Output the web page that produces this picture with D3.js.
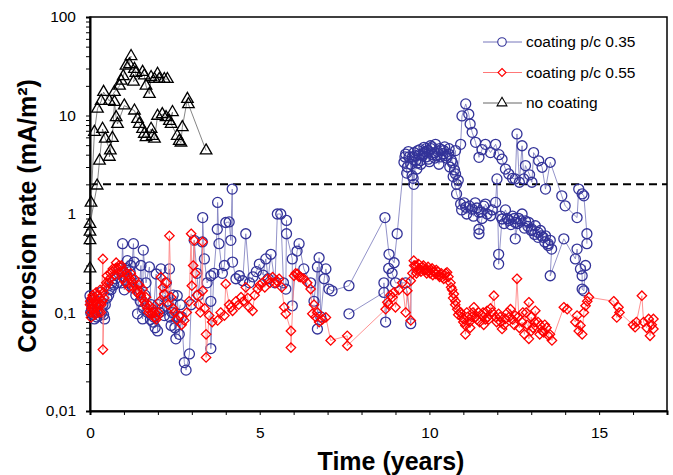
<!DOCTYPE html>
<html>
<head>
<meta charset="utf-8">
<title>Corrosion rate</title>
<script src="https://d3js.org/d3.v7.min.js"></script>
<style>
body { margin: 0; background: #fff; }
text { font-family: Arial, "Liberation Sans", sans-serif; }
</style>
</head>
<body>
<div id="chart"></div>
<script>
// readings, [time (years), corrosion rate (mA/m2)], one array per specimen
var coat035a = [[0.0,0.148],[0.03,0.128],[0.05,0.11],[0.08,0.095],[0.13,0.086],[0.18,0.114],[0.22,0.13],[0.28,0.093],[0.33,0.16],[0.38,0.12],[0.43,0.086],[0.5,0.14],[0.57,0.173],[0.65,0.2],[0.75,0.22],[0.85,0.25],[0.92,0.2],[0.96,0.5],[1.01,0.17],[1.05,0.28],[1.1,0.336],[1.2,0.3],[1.21,0.22],[1.28,0.5],[1.3,0.325],[1.4,0.097],[1.45,0.16],[1.5,0.3],[1.55,0.086],[1.57,0.43],[1.65,0.2],[1.75,0.29],[1.8,0.12],[1.85,0.08],[1.95,0.246],[1.99,0.065],[2.05,0.1],[2.09,0.277],[2.19,0.093],[2.25,0.2],[2.34,0.277],[2.39,0.074],[2.45,0.15],[2.53,0.054],[2.57,0.148],[2.63,0.06],[2.7,0.09],[2.78,0.031],[2.83,0.026],[2.93,0.038],[2.98,0.12],[3.07,0.54],[3.15,0.25],[3.2,0.15],[3.31,0.52],[3.32,0.92],[3.37,0.35],[3.45,0.2],[3.56,0.236],[3.56,0.13],[3.56,0.043],[3.65,0.25],[3.75,0.7],[3.76,1.31],[3.8,0.5],[3.9,0.25],[3.96,0.3],[4.0,0.82],[4.1,0.83],[4.15,0.54],[4.19,1.79],[4.2,0.325],[4.3,0.22],[4.4,0.236],[4.5,0.21],[4.59,0.63],[4.7,0.2],[4.8,0.23],[4.9,0.26],[4.99,0.31],[5.1,0.24],[5.18,0.35],[5.25,0.22],[5.33,0.39],[5.45,0.2],[5.52,1.0],[5.62,1.0],[5.7,0.2],[5.77,0.173],[5.79,0.86],[5.79,0.63],[5.96,0.35],[5.96,0.117],[6.1,0.42],[6.16,0.5],[6.3,0.277],[6.5,0.2],[6.6,0.13],[6.7,0.29],[6.7,0.068],[6.75,0.36],[6.8,0.09],[6.9,0.22],[6.95,0.277],[7.04,0.173],[7.13,0.166],[7.63,0.187],[8.69,0.92],[8.81,0.39],[8.96,0.32],[9.05,0.63],[9.25,3.35],[9.3,4.06],[9.35,3.0],[9.4,3.8],[9.49,2.45],[9.54,2.0],[9.6,3.5],[9.63,2.86],[9.7,4.0],[9.75,3.2],[9.84,4.75],[9.9,3.8],[9.95,4.4],[10.03,4.93],[10.1,4.0],[10.18,5.1],[10.28,3.2],[10.35,4.5],[10.45,4.8],[10.57,4.06],[10.65,3.5],[10.77,4.4],[10.77,2.55],[10.8,2.0],[10.92,5.1],[10.96,9.9],[11.07,13.1],[11.16,10.3],[11.2,8.2],[11.26,6.75],[11.36,5.34],[11.46,3.76],[11.55,4.5],[11.65,5.1],[11.8,4.2],[11.95,5.1],[12.05,4.0],[12.14,3.6],[12.24,2.86],[12.34,2.55],[12.45,2.3],[12.53,2.27],[12.58,6.5],[12.65,2.1],[12.73,4.93],[12.78,2.27],[12.83,3.1],[12.95,2.5],[13.02,2.1],[13.07,4.2],[13.22,3.47],[13.32,2.98],[13.42,1.79],[13.56,3.35],[13.9,1.53],[14.0,1.21],[14.35,0.92],[14.4,1.79],[14.5,1.6],[14.55,1.53],[14.64,0.63],[14.64,0.5]];
var coat035b = [[7.63,0.097],[8.66,0.16],[8.66,0.2],[8.71,0.08],[8.8,0.28],[8.9,0.25],[9.0,0.2],[9.3,0.2],[9.45,0.077],[9.5,3.8],[9.55,4.2],[9.65,3.3],[9.72,4.5],[9.8,3.9],[9.88,4.3],[9.97,3.6],[10.05,4.6],[10.15,4.2],[10.22,3.9],[10.3,4.6],[10.4,4.1],[10.5,3.7],[10.6,3.0],[10.7,2.4],[10.8,1.6],[10.92,1.26],[11.07,1.17],[11.26,1.12],[11.35,1.3],[11.46,1.04],[11.46,0.7],[11.46,0.63],[11.55,0.9],[11.65,1.26],[11.8,0.96],[11.95,1.31],[11.99,2.27],[12.04,0.39],[12.04,0.31],[12.14,0.89],[12.24,1.1],[12.34,0.86],[12.45,0.95],[12.53,0.82],[12.53,0.56],[12.63,0.9],[12.73,1.0],[12.83,0.85],[12.93,0.82],[13.02,0.7],[13.12,0.76],[13.2,0.65],[13.27,0.68],[13.35,0.58],[13.42,0.6],[13.5,0.5],[13.56,0.54],[13.6,0.44],[13.56,0.236],[13.96,0.56],[14.3,0.35],[14.35,0.44],[14.45,0.277],[14.5,0.236],[14.5,0.173],[14.55,0.166],[14.6,0.3]];
var coat035c = [[0.02,0.1],[0.07,0.13],[0.1,0.12],[0.15,0.1],[0.2,0.09],[0.25,0.11],[0.3,0.13],[0.35,0.1],[0.4,0.095],[0.45,0.12],[0.55,0.15],[0.62,0.17],[0.7,0.19],[0.8,0.2],[0.88,0.28],[0.95,0.26],[1.03,0.23],[1.12,0.2],[1.18,0.26],[1.25,0.18],[1.35,0.15],[1.42,0.2],[1.48,0.13],[1.58,0.11],[1.62,0.15],[1.7,0.1],[1.78,0.085],[1.88,0.09],[1.92,0.07],[2.0,0.12],[2.12,0.11],[2.2,0.15],[2.28,0.13],[2.35,0.09],[2.42,0.1],[2.5,0.07],[2.6,0.09],[2.66,0.12]];
var coat035d = [[9.28,3.8],[9.33,2.6],[9.38,4.3],[9.45,3.2],[9.52,2.3],[9.58,3.9],[9.66,4.4],[9.74,3.5],[9.82,4.1],[9.9,4.6],[10.0,3.4],[10.08,4.8],[10.16,3.7],[10.24,4.3],[10.33,3.8],[10.42,4.4],[10.5,3.9],[10.58,4.6],[10.68,3.3],[10.74,2.8],[10.85,2.2],[10.95,1.1],[11.02,1.3],[11.1,1.0],[11.18,1.2],[11.3,0.95],[11.4,1.15],[11.52,1.05],[11.6,1.2],[11.7,1.0],[11.85,1.1],[12.1,0.95],[12.2,0.8],[12.3,0.9],[12.4,0.78],[12.5,0.9],[12.6,0.8],[12.7,0.85],[12.8,0.72],[12.9,0.75],[13.0,0.68],[13.1,0.62],[13.2,0.58],[13.3,0.6],[13.4,0.52],[13.5,0.48]];
var coat055a = [[0.0,0.12],[0.02,0.1],[0.03,0.089],[0.05,0.14],[0.08,0.15],[0.1,0.11],[0.13,0.13],[0.15,0.095],[0.18,0.16],[0.2,0.12],[0.25,0.1],[0.28,0.14],[0.3,0.17],[0.33,0.12],[0.38,0.35],[0.38,0.042],[0.42,0.14],[0.45,0.18],[0.5,0.236],[0.55,0.2],[0.6,0.25],[0.67,0.277],[0.72,0.24],[0.77,0.32],[0.82,0.28],[0.88,0.25],[0.92,0.3],[0.97,0.22],[1.01,0.266],[1.05,0.2],[1.1,0.236],[1.15,0.18],[1.2,0.25],[1.25,0.2],[1.31,0.22],[1.38,0.16],[1.45,0.19],[1.5,0.15],[1.55,0.173],[1.6,0.13],[1.65,0.143],[1.7,0.11],[1.75,0.117],[1.8,0.095],[1.85,0.11],[1.9,0.1],[1.95,0.085],[2.0,0.093],[2.05,0.13],[2.09,0.228],[2.15,0.18],[2.19,0.154],[2.25,0.2],[2.3,0.12],[2.34,0.6],[2.39,0.143],[2.45,0.11],[2.49,0.1],[2.55,0.085],[2.63,0.093],[2.7,0.075],[2.78,0.083],[2.85,0.1],[2.92,0.13],[2.98,0.63],[3.0,0.187],[3.04,0.3],[3.07,0.54],[3.1,0.25],[3.15,0.15],[3.2,0.12],[3.25,0.1],[3.32,0.52],[3.32,0.166],[3.38,0.11],[3.42,0.06],[3.42,0.035],[3.51,0.093],[3.6,0.08],[3.76,0.083],[3.85,0.1],[3.96,0.093],[4.0,0.195],[4.1,0.12],[4.15,0.113],[4.2,0.104],[4.3,0.13],[4.38,0.12],[4.45,0.143],[4.52,0.13],[4.59,0.18],[4.65,0.14],[4.69,0.113],[4.79,0.104],[4.85,0.15],[4.94,0.173],[5.0,0.19],[5.08,0.2],[5.15,0.18],[5.23,0.22],[5.3,0.2],[5.38,0.228],[5.45,0.2],[5.5,0.21],[5.57,0.22],[5.65,0.18],[5.72,0.113],[5.77,0.097],[5.92,0.065],[5.92,0.044],[6.01,0.236],[6.06,0.25],[6.11,0.246],[6.16,0.23],[6.21,0.228],[6.3,0.22],[6.4,0.2],[6.5,0.173],[6.55,0.097],[6.6,0.12],[6.65,0.09],[6.7,0.1],[6.75,0.08],[6.85,0.085],[6.95,0.089],[7.09,0.052],[7.58,0.058],[7.58,0.046],[8.71,0.108],[8.76,0.127],[8.8,0.12],[8.85,0.15],[8.91,0.143],[8.95,0.16],[9.0,0.113],[9.1,0.17],[9.2,0.2],[9.3,0.1],[9.35,0.166],[9.45,0.083],[9.45,0.21],[9.5,0.25],[9.54,0.336],[9.6,0.3],[9.64,0.266],[9.7,0.28],[9.79,0.29],[9.85,0.27],[9.92,0.25],[9.99,0.266],[10.05,0.27],[10.1,0.24],[10.18,0.246],[10.25,0.26],[10.3,0.23],[10.38,0.228],[10.45,0.24],[10.52,0.256],[10.62,0.2],[10.67,0.17],[10.72,0.154],[10.77,0.13],[10.82,0.108],[10.9,0.1],[10.96,0.089],[11.0,0.08],[11.06,0.074],[11.06,0.06],[11.12,0.09],[11.2,0.07],[11.25,0.09],[11.31,0.113],[11.4,0.085],[11.45,0.1],[11.55,0.093],[11.6,0.075],[11.7,0.104],[11.75,0.085],[11.8,0.11],[11.9,0.148],[11.95,0.09],[12.04,0.097],[12.1,0.08],[12.14,0.068],[12.24,0.086],[12.3,0.1],[12.39,0.108],[12.45,0.085],[12.53,0.093],[12.58,0.22],[12.65,0.07],[12.73,0.08],[12.8,0.06],[12.85,0.1],[12.93,0.127],[12.93,0.054],[13.0,0.09],[13.05,0.07],[13.12,0.104],[13.2,0.08],[13.27,0.074],[13.32,0.065],[13.37,0.063],[13.45,0.07],[13.51,0.058],[13.61,0.052],[13.96,0.113],[14.06,0.108],[14.3,0.08],[14.35,0.093],[14.4,0.065],[14.45,0.074],[14.5,0.06],[14.55,0.1],[14.6,0.117],[14.65,0.13],[14.7,0.143],[15.43,0.13],[15.52,0.089],[15.57,0.113],[15.6,0.1],[16.0,0.075],[16.06,0.071],[16.1,0.08],[16.26,0.148],[16.31,0.08],[16.4,0.07],[16.46,0.086],[16.5,0.058],[16.55,0.075],[16.6,0.086],[16.6,0.068]];
var coat055b = [[0.01,0.13],[0.04,0.11],[0.07,0.12],[0.11,0.14],[0.14,0.1],[0.17,0.12],[0.22,0.15],[0.27,0.12],[0.32,0.1],[0.36,0.13],[0.4,0.16],[0.48,0.2],[0.58,0.22],[0.65,0.26],[0.75,0.28],[0.85,0.3],[0.95,0.26],[1.08,0.25],[1.18,0.22],[1.28,0.18],[1.4,0.17],[1.52,0.14],[1.62,0.12],[1.72,0.1],[1.82,0.1],[1.92,0.09],[2.02,0.1]];
var coat055c = [[9.55,0.3],[9.62,0.25],[9.68,0.31],[9.75,0.26],[9.82,0.3],[9.9,0.27],[9.96,0.29],[10.02,0.25],[10.08,0.28],[10.14,0.26],[10.2,0.27],[10.28,0.24],[10.35,0.25],[10.42,0.22],[10.48,0.25],[10.56,0.23],[10.64,0.18],[10.7,0.14],[10.76,0.12],[10.85,0.095],[10.92,0.1],[11.02,0.085],[11.1,0.1],[11.18,0.08],[11.28,0.1],[11.36,0.09],[11.48,0.08],[11.58,0.1],[11.65,0.085],[11.72,0.09],[11.85,0.1],[11.98,0.08],[12.08,0.09],[12.2,0.075],[12.35,0.09],[12.5,0.075],[12.62,0.09],[12.75,0.1],[12.88,0.075],[13.0,0.065],[13.1,0.08],[13.25,0.06],[13.4,0.075],[13.55,0.06]];
var noCoatA = [[0.0,0.28],[0.0,0.54],[0.03,1.3],[0.13,6.8],[0.22,11.7],[0.33,14],[0.4,17.3],[0.57,14],[0.72,17.3],[0.87,20],[0.92,22.5],[0.98,25],[1.06,32],[1.21,40],[1.16,33],[1.31,29.6],[1.35,27],[1.28,22],[1.55,27.6],[1.6,25.4],[1.65,20],[1.75,16.5],[1.8,24.5],[1.9,23.4],[1.99,26.4],[2.04,23.4],[2.19,23.4],[2.28,23.4]];
var noCoatB = [[0.0,0.66],[0.0,0.79],[0.21,1.94],[0.28,3.47],[0.37,7.3],[0.45,5.8],[0.6,4.4],[0.57,3.8],[0.66,5.9],[0.72,13.7],[0.77,9.6],[0.81,8.2],[1.01,12.6],[1.31,11.2],[1.4,9.2],[1.45,8.2],[1.55,7.3],[1.6,6.5],[1.65,6.0],[1.8,7.3],[1.84,6.2],[1.9,5.8],[1.99,9.9],[2.13,10.3],[2.24,9.6],[2.34,8.8],[2.43,10.8],[2.39,8.2],[2.57,6.2],[2.63,5.5],[2.68,5.3],[2.72,7.6],[2.87,14.7],[2.9,13],[3.42,4.4]];
var threshold = 2;
var seriesNames = ["coating p/c 0.35", "coating p/c 0.55", "no coating"];
var yMajor = [0.01, 0.1, 1, 10, 100];
var xLabels = [0, 5, 10, 15];

var width = 673, height = 475;
var svg = d3.select("#chart").append("svg")
    .attr("width", width).attr("height", height);

var x = d3.scaleLinear().domain([0, 17]).range([90, 667]);
var y = d3.scaleLog().domain([0.01, 100]).range([411, 17]);

// ticks 1..9 in each decade
var yTicks = [];
yMajor.slice(0, 4).forEach(function(d) {
    for (var k = 1; k < 10; k++) yTicks.push(+(d * k).toPrecision(3));
});
yTicks.push(100);

// frame
svg.append("rect").attr("x", 90).attr("y", 17).attr("width", 577).attr("height", 394)
    .attr("fill", "none").attr("stroke", "#000").attr("stroke-width", 1.5);

var xAxis = svg.append("g").attr("transform", "translate(0,411)")
    .call(d3.axisBottom(x).tickValues(d3.range(0, 18)).tickSize(4).tickPadding(12)
        .tickFormat(function(d) { return xLabels.indexOf(d) >= 0 ? d : ""; }));
var yAxis = svg.append("g").attr("transform", "translate(90,0)")
    .call(d3.axisLeft(y).tickValues(yTicks).tickSize(4).tickPadding(10)
        .tickFormat(function(d) { return yMajor.indexOf(d) >= 0 ? String(d).replace(".", ",") : ""; }));
[xAxis, yAxis].forEach(function(a) {
    a.select(".domain").attr("stroke-width", 2);
    a.selectAll("text").attr("font-size", 15.5).attr("fill", "#000")
        .attr("font-family", "Arial, 'Liberation Sans', sans-serif");
});

// 2 mA/m2 line
svg.append("line").attr("x1", 90).attr("x2", 667)
    .attr("y1", y(threshold)).attr("y2", y(threshold))
    .attr("stroke", "#000").attr("stroke-width", 2).attr("stroke-dasharray", "8,5");

var line = d3.line().x(function(d) { return x(d[0]); }).y(function(d) { return y(d[1]); });
var diamond = "M0,-4.7L4.7,0L0,4.7L-4.7,0Z";
var triangle = d3.symbol().type(d3.symbolTriangle).size(58)();

var styles = [
    { color: "#333399", line: "#7777bb", shape: "circle" },
    { color: "#ff0000", line: "#ff7777", shape: "diamond" },
    { color: "#000000", line: "#666666", shape: "triangle" }
];

function marker(g, s) {
    if (s.shape == "circle") {
        g.append("circle").attr("r", 5);
    } else if (s.shape == "diamond") {
        g.append("path").attr("d", diamond);
    } else {
        g.append("path").attr("d", triangle);
    }
    g.selectAll("*").attr("fill", "none").attr("stroke", s.color).attr("stroke-width", 1.3);
}

function drawSeries(sets, s) {
    var grp = svg.append("g");
    sets.forEach(function(data) {
        grp.append("path").datum(data).attr("d", line)
            .attr("fill", "none").attr("stroke", s.line).attr("stroke-width", 0.8);
    });
    sets.forEach(function(data) {
        grp.selectAll(null).data(data).enter().append("g")
            .attr("transform", function(d) { return "translate(" + x(d[0]) + "," + y(d[1]) + ")"; })
            .each(function() { marker(d3.select(this), s); });
    });
}

drawSeries([coat035a, coat035b, coat035c, coat035d], styles[0]);
drawSeries([coat055a, coat055b, coat055c], styles[1]);
drawSeries([noCoatA, noCoatB], styles[2]);

// legend
var leg = svg.append("g");
seriesNames.forEach(function(name, i) {
    var ly = 42 + i * 30.5;
    leg.append("line").attr("x1", 483).attr("x2", 522).attr("y1", ly).attr("y2", ly)
        .attr("stroke", styles[i].line).attr("stroke-width", 1);
    var m = leg.append("g").attr("transform", "translate(502," + ly + ")");
    marker(m, styles[i]);
    m.selectAll("*").attr("fill", "#fff").attr("transform", "scale(0.85)");
    leg.append("text").attr("x", 526).attr("y", ly).attr("dy", "0.35em")
        .attr("font-size", 15.5).text(name);
});

// titles
svg.append("text").attr("x", 391).attr("y", 470).attr("text-anchor", "middle")
    .attr("font-size", 25).attr("font-weight", "bold").text("Time (years)");
svg.append("text").attr("transform", "translate(36,216) rotate(-90)").attr("text-anchor", "middle")
    .attr("font-size", 25).attr("font-weight", "bold").text("Corrosion rate (mA/m²)");
</script>
</body>
</html>
